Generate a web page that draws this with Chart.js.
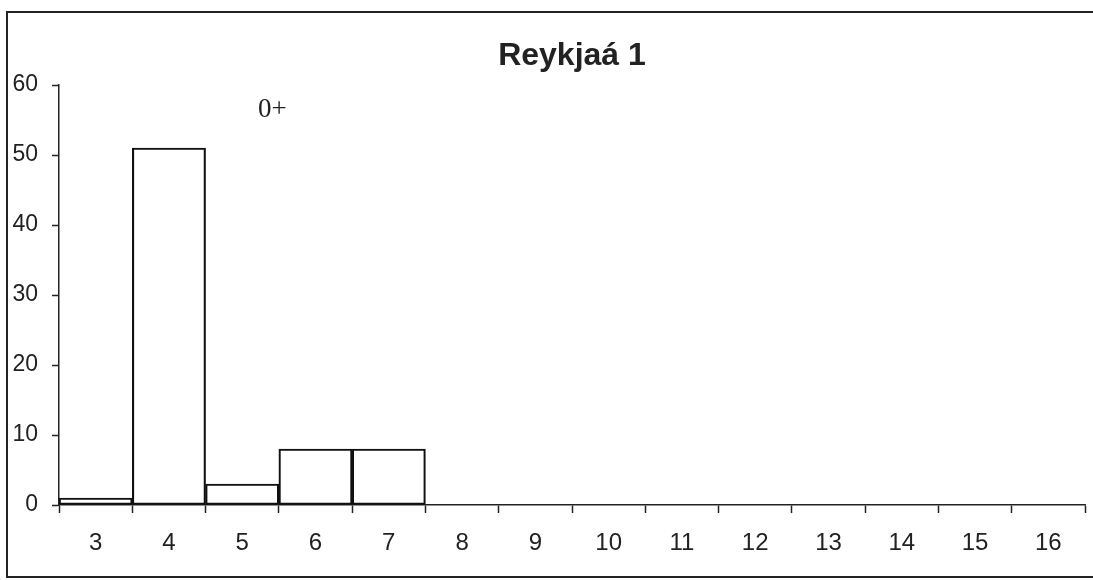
<!DOCTYPE html>
<html>
<head>
<meta charset="utf-8">
<script src="https://cdn.jsdelivr.net/npm/chart.js@4/dist/chart.umd.min.js"></script>
<style>
  html, body { margin: 0; padding: 0; background: #fff; }
  #wrap { position: relative; width: 1093px; height: 580px; }
</style>
</head>
<body>
<div id="wrap"><canvas id="chart" width="1093" height="580"></canvas></div>
<script>
// values
const categories = ['3', '4', '5', '6', '7', '8', '9', '10', '11', '12', '13', '14', '15', '16'];
const counts = [1, 51, 3, 8, 8, 0, 0, 0, 0, 0, 0, 0, 0, 0];
const yTicks = [0, 10, 20, 30, 40, 50, 60];
const chartTitle = 'Reykjaá 1';
const note = '0+';

// page frame + the "0+" note
const framePlugin = {
    id: 'frame',
    afterDraw(chart) {
        const ctx = chart.ctx;
        ctx.save();
        ctx.strokeStyle = '#222';
        ctx.lineWidth = 2;
        ctx.beginPath();
        ctx.moveTo(1093, 12);
        ctx.lineTo(7, 12);
        ctx.lineTo(7, 577);
        ctx.lineTo(1093, 577);
        ctx.stroke();

        ctx.fillStyle = '#222';
        ctx.font = '27px "Liberation Serif"';
        ctx.textBaseline = 'alphabetic';
        ctx.fillText(note, 258, 117);
        ctx.restore();
    }
};

new Chart(document.getElementById('chart'), {
    type: 'bar',
    data: {
        labels: categories,
        datasets: [{
            data: counts,
            backgroundColor: 'rgba(255,255,255,0)',
            borderColor: '#111',
            borderWidth: 1.5,
            borderSkipped: false,
            barPercentage: 1,
            categoryPercentage: 1
        }]
    },
    options: {
        responsive: false,
        animation: false,
        layout: { padding: { left: 0, right: 8, top: 0, bottom: 0 } },
        plugins: {
            legend: { display: false },
            tooltip: { enabled: false },
            title: {
                display: true,
                text: chartTitle,
                fullSize: false,
                color: '#222',
                font: { family: '"Liberation Sans", Arial', size: 32, weight: 'bold', lineHeight: 1.2 },
                padding: { top: 37, bottom: 9.6 }
            }
        },
        scales: {
            x: {
                grid: {
                    display: true,
                    offset: true,
                    drawOnChartArea: false,
                    drawTicks: true,
                    tickLength: 8,
                    tickWidth: 1.5,
                    color: '#222'
                },
                border: { color: '#222', width: 1.5 },
                ticks: {
                    color: '#222',
                    padding: 16,
                    maxRotation: 0,
                    font: { family: '"Liberation Sans", Arial', size: 24 }
                },
                afterFit(scale) { scale.height = 75; }
            },
            y: {
                min: 0,
                max: 60,
                grid: {
                    display: true,
                    drawOnChartArea: false,
                    drawTicks: true,
                    tickLength: 7,
                    tickWidth: 1.5,
                    color: '#222'
                },
                border: { color: '#222', width: 1.5 },
                afterBuildTicks(scale) { scale.ticks = yTicks.map(v => ({ value: v })); },
                ticks: {
                    color: '#222',
                    padding: 14,
                    font: { family: '"Liberation Sans", Arial', size: 23 }
                },
                afterFit(scale) { scale.width = 59; }
            }
        }
    },
    plugins: [framePlugin]
});
</script>
</body>
</html>
